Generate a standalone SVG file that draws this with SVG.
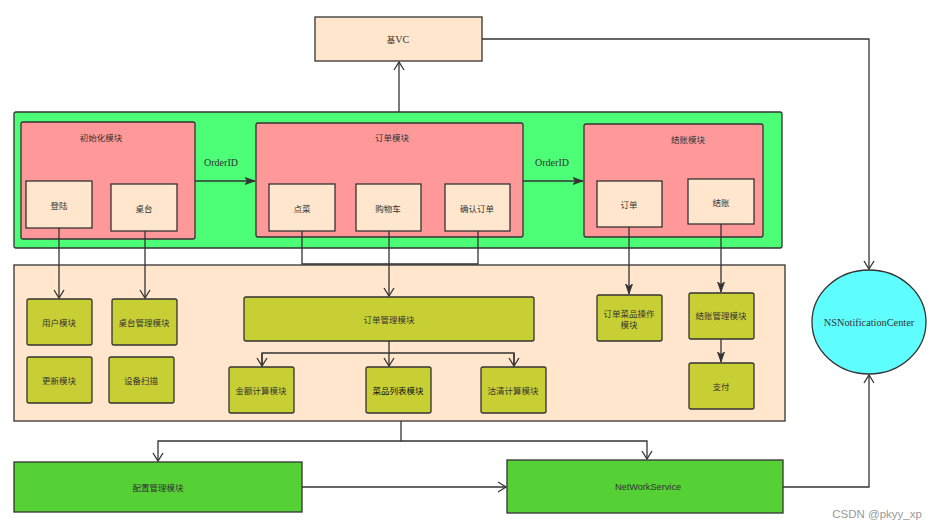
<svg xmlns="http://www.w3.org/2000/svg" width="938" height="530" viewBox="0 0 938 530">
<defs>
<style>
.cn{font-family:"Noto Sans CJK SC","Liberation Sans",sans-serif;font-size:8.5px;fill:#333;text-anchor:middle;dominant-baseline:central}
.sf{font-family:"Liberation Serif","Noto Sans CJK SC",serif;font-size:10px;fill:#333;text-anchor:middle;dominant-baseline:central}
.ss{font-family:"Liberation Sans","Noto Sans CJK SC",sans-serif;font-size:9.2px;fill:#333;text-anchor:middle;dominant-baseline:central}
.box{stroke:#333;stroke-width:1.3}
.peach{fill:#FFE6CC}
.pink{fill:#FF9999}
.olive{fill:#C8CF35}
.lgreen{fill:#4DFF77}
.dgreen{fill:#55D035}
.ln{fill:none;stroke:#333;stroke-width:1.3}
</style>
<marker id="open" markerWidth="12" markerHeight="12" refX="10" refY="6" orient="auto" markerUnits="userSpaceOnUse">
<path d="M2,1 L10,6 L2,11" fill="none" stroke="#333" stroke-width="1.3"/>
</marker>
<marker id="fill" markerWidth="12" markerHeight="10" refX="10" refY="5" orient="auto" markerUnits="userSpaceOnUse">
<path d="M0,1.5 L10,5 L0,8.5 L2.5,5 Z" fill="#333" stroke="#333" stroke-width="0.8"/>
</marker>
</defs>
<rect width="938" height="530" fill="#fff"/>

<g id="containers">
<rect id="top-group" class="box lgreen" x="14" y="112" width="768" height="136" rx="2"/>
<rect id="bottom-group" class="box peach" x="14" y="265" width="771" height="156"/>
</g>

<g id="node-basevc"><rect class="box peach" x="315" y="17" width="167" height="44"/><text class="sf" x="398" y="39"><tspan class="cn" style="font-size:8.5px">基</tspan>VC</text></g>

<g id="node-init"><rect class="box pink" x="21" y="122" width="174" height="117" rx="2"/><text class="cn" x="101" y="137">初始化模块</text></g>
<g id="node-login"><rect class="box peach" x="26" y="181" width="66" height="47"/><text class="cn" x="59" y="205">登陆</text></g>
<g id="node-table"><rect class="box peach" x="111" y="184" width="66" height="47"/><text class="cn" x="144" y="208">桌台</text></g>

<g id="node-order"><rect class="box pink" x="256" y="123" width="267" height="114" rx="2"/><text class="cn" x="392" y="137">订单模块</text></g>
<g id="node-dish"><rect class="box peach" x="269" y="184" width="66" height="47"/><text class="cn" x="302" y="208">点菜</text></g>
<g id="node-cart"><rect class="box peach" x="356" y="184" width="65" height="47"/><text class="cn" x="388" y="208">购物车</text></g>
<g id="node-confirm"><rect class="box peach" x="445" y="184" width="65" height="47"/><text class="cn" x="477" y="208">确认订单</text></g>

<g id="node-checkout"><rect class="box pink" x="584" y="124" width="179" height="113" rx="2"/><text class="cn" x="688" y="139">结账模块</text></g>
<g id="node-order2"><rect class="box peach" x="597" y="181" width="65" height="46"/><text class="cn" x="629" y="204">订单</text></g>
<g id="node-pay"><rect class="box peach" x="688" y="179" width="66" height="45"/><text class="cn" x="721" y="202">结账</text></g>

<g id="node-user"><rect class="box olive" x="27" y="299" width="65" height="46" rx="2"/><text class="cn" x="59" y="322">用户模块</text></g>
<g id="node-tablemgr"><rect class="box olive" x="112" y="299" width="65" height="46" rx="2"/><text class="cn" x="144" y="322">桌台管理模块</text></g>
<g id="node-update"><rect class="box olive" x="27" y="357" width="65" height="46" rx="2"/><text class="cn" x="59" y="380">更新模块</text></g>
<g id="node-scan"><rect class="box olive" x="109" y="357" width="65" height="46" rx="2"/><text class="cn" x="141" y="380">设备扫描</text></g>
<g id="node-ordermgr"><rect class="box olive" x="244" y="297" width="290" height="44" rx="2"/><text class="cn" x="389" y="319">订单管理模块</text></g>
<g id="node-amount"><rect class="box olive" x="229" y="367" width="65" height="46" rx="2"/><text class="cn" x="261" y="390">金额计算模块</text></g>
<g id="node-dishlist"><rect class="box olive" x="366" y="367" width="65" height="46" rx="2"/><text class="cn" x="398" y="390" style="fill:#111">菜品列表模块</text></g>
<g id="node-soldout"><rect class="box olive" x="481" y="367" width="65" height="46" rx="2"/><text class="cn" x="513" y="390">沽清计算模块</text></g>
<g id="node-orderdish"><rect class="box olive" x="597" y="295" width="65" height="46" rx="2"/><text class="cn" x="629" y="313">订单菜品操作</text><text class="cn" x="629" y="324">模块</text></g>
<g id="node-paymgr"><rect class="box olive" x="689" y="293" width="65" height="46" rx="2"/><text class="cn" x="721" y="315">结账管理模块</text></g>
<g id="node-payment"><rect class="box olive" x="689" y="363" width="65" height="46" rx="2"/><text class="cn" x="721" y="386">支付</text></g>

<g id="node-config"><rect class="box dgreen" x="14" y="462" width="288" height="50"/><text class="cn" x="158" y="487">配置管理模块</text></g>
<g id="node-network"><rect class="box dgreen" x="507" y="460" width="276" height="53"/><text class="ss" x="648" y="487">NetWorkService</text></g>
<g id="node-nc"><ellipse cx="869" cy="322" rx="57" ry="52" fill="#5FFFFF" stroke="#333" stroke-width="1.3"/><text class="sf" x="869" y="322" style="font-size:10.3px">NSNotificationCenter</text></g>

<g id="connectors">
<path class="ln" d="M399,112 L399,62" marker-end="url(#open)"/>
<path class="ln" d="M482,39 L869,39 L869,269" marker-end="url(#open)"/>
<path class="ln" d="M195,181 L255,181" marker-end="url(#fill)"/>
<path class="ln" d="M523,181 L583,181" marker-end="url(#fill)"/>
<path class="ln" d="M59,228 L59,298" marker-end="url(#open)"/>
<path class="ln" d="M145,231 L145,298" marker-end="url(#open)"/>
<path class="ln" d="M302,231 L302,264 L478,264 L478,231"/>
<path class="ln" d="M389,231 L389,296" marker-end="url(#open)"/>
<path class="ln" d="M389,341 L389,353"/>
<path class="ln" d="M262,366 L262,353 L514,353 L514,366" marker-start="none"/>
<path class="ln" d="M262,353 L262,366" marker-end="url(#open)"/>
<path class="ln" d="M389,353 L389,366" marker-end="url(#open)"/>
<path class="ln" d="M514,353 L514,366" marker-end="url(#open)"/>
<path class="ln" d="M629,227 L629,294" marker-end="url(#fill)"/>
<path class="ln" d="M721,224 L721,292" marker-end="url(#fill)"/>
<path class="ln" d="M721,339 L721,362" marker-end="url(#fill)"/>
<path class="ln" d="M401,421 L401,441 L158,441 L158,461" marker-end="url(#open)"/>
<path class="ln" d="M401,441 L647,441 L647,459" marker-end="url(#open)"/>
<path class="ln" d="M302,487 L506,487" marker-end="url(#open)"/>
<path class="ln" d="M783,487 L869,487 L869,375" marker-end="url(#open)"/>
</g>

<g id="labels">
<text class="sf" x="221" y="162">OrderID</text>
<text class="sf" x="552" y="162">OrderID</text>
<text x="877" y="518" style="font-family:'Liberation Sans',sans-serif;font-size:11.5px;fill:#999;text-anchor:middle">CSDN @pkyy_xp</text>
</g>
</svg>
